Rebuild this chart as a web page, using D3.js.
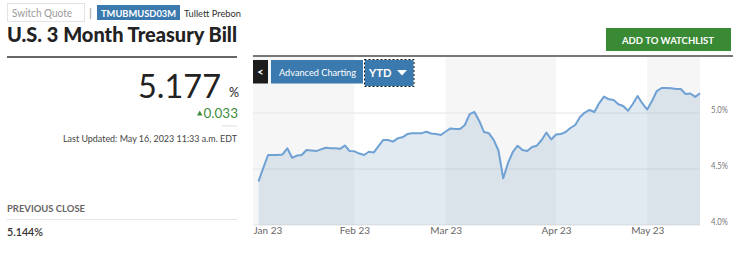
<!DOCTYPE html>
<html>
<head>
<meta charset="utf-8">
<script src="https://cdn.jsdelivr.net/npm/d3@7"></script>
<style>
    body { margin: 0; background: #fff; }
    svg text { font-family: Lato, "Open Sans", sans-serif; }
</style>
</head>
<body>
<div id="page"></div>
<script>
// daily 3 month bill yields, one array per month
const janYields = [4.39, 4.51, 4.625, 4.625, 4.625, 4.63, 4.685, 4.60, 4.62, 4.625,
                   4.67, 4.665, 4.66, 4.675, 4.69, 4.685, 4.685, 4.68, 4.71, 4.66];
const febYields = [4.658, 4.638, 4.625, 4.654, 4.647, 4.705, 4.759, 4.759, 4.744, 4.774,
                   4.783, 4.812, 4.819, 4.819, 4.82, 4.833, 4.817, 4.812, 4.804];
const marYields = [4.835, 4.862, 4.857, 4.857, 4.893, 4.99, 5.009, 4.929, 4.83, 4.82,
                   4.76, 4.665, 4.417, 4.554, 4.652, 4.708, 4.67, 4.66, 4.696, 4.708,
                   4.759, 4.826, 4.763];
const aprYields = [4.808, 4.812, 4.83, 4.866, 4.893, 4.964, 5.004, 5.027, 5.009, 5.089,
                   5.147, 5.122, 5.116, 5.078, 5.062, 5.02, 5.08, 5.152, 5.085];
const mayYields = [5.031, 5.107, 5.196, 5.223, 5.223, 5.22, 5.214, 5.214, 5.17, 5.174,
                   5.144, 5.177];

const monthLabels = ["Jan 23", "Feb 23", "Mar 23", "Apr 23", "May 23"];
const yTicks = [4.0, 4.5, 5.0];

const lastValue = "5.177";
const changeValue = "0.033";
const prevClose = "5.144%";

const yields = [].concat(janYields, febYields, marYields, aprYields, mayYields);

// index of first trading day in each month
let monthStarts = [];
let count = 0;
[janYields, febYields, marYields, aprYields, mayYields].forEach(m => {
    monthStarts.push(count);
    count += m.length;
});

const svg = d3.select("#page").append("svg")
    .attr("width", 740)
    .attr("height", 253);

// squeeze a label to the width it has in the page
function fit(sel, w) {
    return sel.attr("textLength", w).attr("lengthAdjust", "spacingAndGlyphs");
}

/* ---------- header ---------- */
svg.append("rect")
    .attr("x", 7.5).attr("y", 3.5).attr("width", 77).attr("height", 18)
    .attr("fill", "#fff").attr("stroke", "#e3e3e3");
fit(svg.append("text")
    .attr("x", 12).attr("y", 16.5)
    .attr("font-size", 10.5).attr("fill", "#9a9a9a")
    .text("Switch Quote"), 60);
svg.append("text")
    .attr("x", 89).attr("y", 17)
    .attr("font-size", 12).attr("fill", "#999")
    .text("|");
svg.append("rect")
    .attr("x", 97).attr("y", 5).attr("width", 83).attr("height", 15)
    .attr("fill", "#3b7aae");
fit(svg.append("text")
    .attr("x", 101).attr("y", 16.5)
    .attr("font-size", 10).attr("font-weight", 700).attr("fill", "#fff")
    .text("TMUBMUSD03M"), 75);
fit(svg.append("text")
    .attr("x", 184).attr("y", 16.5)
    .attr("font-size", 9.8).attr("fill", "#333")
    .text("Tullett Prebon"), 57);

fit(svg.append("text")
    .attr("x", 7).attr("y", 42)
    .attr("font-size", 20).attr("font-weight", 900).attr("fill", "#222")
    .text("U.S. 3 Month Treasury Bill"), 230);

// dark rules under the title and over the chart
svg.append("line")
    .attr("x1", 7).attr("x2", 237).attr("y1", 57).attr("y2", 57)
    .attr("stroke", "#666").attr("stroke-width", 2);
svg.append("line")
    .attr("x1", 253).attr("x2", 733).attr("y1", 56).attr("y2", 56)
    .attr("stroke", "#777").attr("stroke-width", 2);

// watchlist button
svg.append("rect")
    .attr("x", 606).attr("y", 28).attr("width", 125).attr("height", 23)
    .attr("fill", "#3a8a35");
fit(svg.append("text")
    .attr("x", 622).attr("y", 43.5)
    .attr("font-size", 10.3).attr("font-weight", 700).attr("fill", "#fff")
    .text("ADD TO WATCHLIST"), 92);

/* ---------- left quote panel ---------- */
fit(svg.append("text")
    .attr("x", 138).attr("y", 98)
    .attr("font-size", 33).attr("fill", "#222")
    .text(lastValue), 83);
svg.append("text")
    .attr("x", 229).attr("y", 97)
    .attr("font-size", 12.5).attr("fill", "#222")
    .text("%");

svg.append("text")
    .attr("x", 238).attr("y", 117.5)
    .attr("text-anchor", "end")
    .attr("font-size", 13.5).attr("fill", "#3d8b3d")
    .text(changeValue);
svg.append("path")
    .attr("d", "M197,115.5 L202.5,115.5 L199.75,110.5 Z")
    .attr("fill", "#3d8b3d");
svg.append("line")
    .attr("x1", 222).attr("x2", 237).attr("y1", 126).attr("y2", 126)
    .attr("stroke", "#ddd");

fit(svg.append("text")
    .attr("x", 63).attr("y", 142)
    .attr("font-size", 9.6).attr("fill", "#444")
    .text("Last Updated: May 16, 2023 11:33 a.m. EDT"), 174);

fit(svg.append("text")
    .attr("x", 7).attr("y", 211.5)
    .attr("font-size", 9.6).attr("font-weight", 700).attr("fill", "#666")
    .text("PREVIOUS CLOSE"), 78);
svg.append("line")
    .attr("x1", 7).attr("x2", 237).attr("y1", 219.5).attr("y2", 219.5)
    .attr("stroke", "#e6e6e6");
fit(svg.append("text")
    .attr("x", 7).attr("y", 236)
    .attr("font-size", 11.5).attr("font-weight", 600).attr("fill", "#333")
    .text(prevClose), 36);

/* ---------- chart ---------- */
const plot = {left: 253, right: 700, top: 57, bottom: 225};

const x = d3.scaleLinear()
    .domain([0, yields.length - 1])
    .range([258.5, 700]);

const y = d3.scaleLinear()
    .domain([4.0, 5.5])
    .range([plot.bottom, plot.top]);

// alternating month bands
const chart = svg.append("g");
chart.selectAll(".band")
    .data(monthStarts)
    .enter()
    .append("rect")
    .attr("class", "band")
    .attr("x", (d, i) => i === 0 ? plot.left : x(d))
    .attr("y", plot.top)
    .attr("width", (d, i) => {
        let x0 = i === 0 ? plot.left : x(d);
        let x1 = i < monthStarts.length - 1 ? x(monthStarts[i + 1]) : plot.right;
        return x1 - x0;
    })
    .attr("height", plot.bottom - plot.top)
    .attr("fill", (d, i) => i % 2 === 0 ? "#f6f6f6" : "#fff");

// gridlines
chart.selectAll(".grid")
    .data(yTicks)
    .enter()
    .append("line")
    .attr("class", "grid")
    .attr("x1", plot.left).attr("x2", plot.right)
    .attr("y1", d => y(d)).attr("y2", d => y(d))
    .attr("stroke", "#e4e4e4");

const area = d3.area()
    .x((d, i) => x(i))
    .y0(y(4.0))
    .y1(d => y(d));

const line = d3.line()
    .x((d, i) => x(i))
    .y(d => y(d));

chart.append("path")
    .datum(yields)
    .attr("d", area)
    .attr("fill", "rgba(130,168,198,0.24)");

chart.append("path")
    .datum(yields)
    .attr("d", line)
    .attr("fill", "none")
    .attr("stroke", "#6fa1d4")
    .attr("stroke-width", 2)
    .attr("stroke-linejoin", "round");

// x axis
const xAxis = chart.append("g")
    .attr("transform", `translate(0, ${plot.bottom})`)
    .call(d3.axisBottom(x)
        .tickValues(monthStarts)
        .tickFormat((d, i) => monthLabels[i])
        .tickSize(0)
        .tickPadding(2));
xAxis.select(".domain").remove();
xAxis.selectAll("text")
    .attr("font-size", 10)
    .attr("fill", "#666");
xAxis.select(".tick text")
    .attr("text-anchor", "start")
    .attr("x", plot.left - x(0));

// y axis on the right
const yAxis = chart.append("g")
    .attr("transform", `translate(711, 0)`)
    .call(d3.axisRight(y)
        .tickValues(yTicks)
        .tickFormat(d => d.toFixed(1) + "%")
        .tickSize(0)
        .tickPadding(0));
yAxis.select(".domain").remove();
yAxis.selectAll("text")
    .attr("font-size", 9)
    .attr("fill", "#777")
    .attr("dy", "-0.1em")
    .attr("textLength", 17)
    .attr("lengthAdjust", "spacingAndGlyphs");

/* ---------- chart buttons ---------- */
svg.append("rect")
    .attr("x", 253).attr("y", 60).attr("width", 15).attr("height", 23.5)
    .attr("fill", "#1c1c1c");
svg.append("text")
    .attr("x", 260.5).attr("y", 75.5)
    .attr("text-anchor", "middle")
    .attr("font-size", 11).attr("font-weight", 700).attr("fill", "#fff")
    .text("<");

svg.append("rect")
    .attr("x", 271).attr("y", 60).attr("width", 92).attr("height", 23.5)
    .attr("fill", "#3b7aae");
fit(svg.append("text")
    .attr("x", 279).attr("y", 75.5)
    .attr("font-size", 10.3).attr("fill", "#fff")
    .text("Advanced Charting"), 77);

svg.append("rect")
    .attr("x", 364.5).attr("y", 59.5).attr("width", 49.5).attr("height", 27)
    .attr("fill", "#3b7aae")
    .attr("stroke", "#fff");
svg.append("rect")
    .attr("x", 364.5).attr("y", 59.5).attr("width", 49.5).attr("height", 27)
    .attr("fill", "none")
    .attr("stroke", "#111")
    .attr("stroke-dasharray", "2,2");
fit(svg.append("text")
    .attr("x", 369).attr("y", 77)
    .attr("font-size", 12).attr("font-weight", 700).attr("fill", "#fff")
    .text("YTD"), 22.5);
svg.append("path")
    .attr("d", "M397,70 L407,70 L402,75.5 Z")
    .attr("fill", "#fff");
</script>
</body>
</html>
